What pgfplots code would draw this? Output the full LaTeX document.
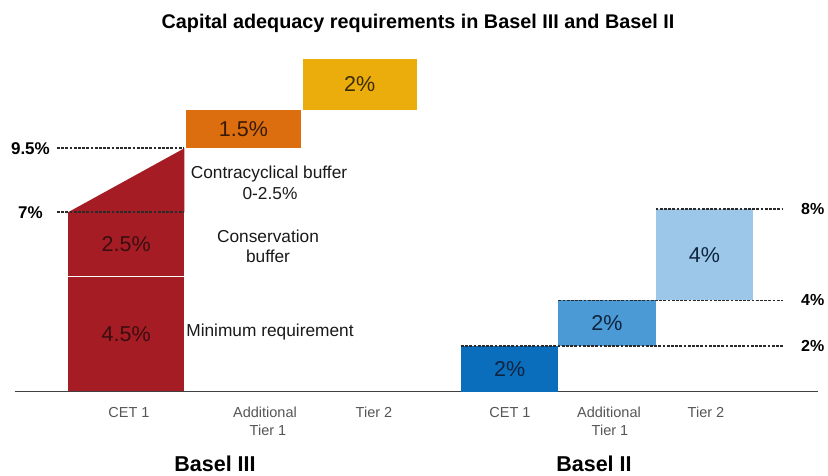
\documentclass[border=0pt]{standalone}
\usepackage{pgfplots}
\pgfplotsset{compat=1.18}
\usepackage{fontspec}
\setmainfont{Liberation Sans}
\definecolor{redbar}{HTML}{A51C24}
\definecolor{orangebar}{HTML}{DC6E10}
\definecolor{yellowbar}{HTML}{EBAD0C}
\definecolor{blueA}{HTML}{0B6EBD}
\definecolor{blueB}{HTML}{4B9AD5}
\definecolor{blueC}{HTML}{9CC7E8}
\definecolor{redtxt}{HTML}{3A0E10}
\definecolor{orangetxt}{HTML}{3A1A06}
\definecolor{yellowtxt}{HTML}{3A2C04}
\definecolor{bluetxt}{HTML}{0E2440}
\definecolor{cattxt}{HTML}{555555}
\definecolor{dashc}{HTML}{2A2A2A}
\begin{document}
\begin{tikzpicture}[x=1pt,y=1pt]
\useasboundingbox (0,0) rectangle (828,475);
\tikzset{barlab/.style={font=\fontsize{21.5}{24}\selectfont, inner sep=0pt},
         dline/.style={dashc, line width=1.6pt, dash pattern=on 2.8pt off 1.4pt},
         cat/.style={font=\fontsize{14.5}{17}\selectfont, text=cattxt, anchor=base, inner sep=0pt},
         ann/.style={font=\fontsize{17.3}{20}\selectfont, text=black!90, anchor=base, inner sep=0pt}}
% ---------------- Basel III ----------------
\begin{axis}[at={(0,0)}, anchor=south west, scale only axis, width=828pt, height=475pt,
  xmin=-0.5845, xmax=6.5330, ymin=-3.262, ymax=15.293, hide axis, clip=false, no markers]
  % CET 1: minimum requirement 4.5, conservation buffer 2.5, countercyclical 0-2.5
  \addplot[fill=redbar, draw=none] coordinates {(0,0) (1,0) (1,4.5) (0,4.5)} -- cycle;
  \addplot[fill=redbar, draw=none] coordinates {(0,4.5) (1,4.5) (1,7) (0,7)} -- cycle;
  \addplot[fill=redbar, draw=none] coordinates {(0,7) (1,9.5) (1,7)} -- cycle;
  \addplot[white, line width=1.5pt] coordinates {(0,4.5) (1,4.5)};
  % Additional Tier 1: 1.5
  \addplot[fill=orangebar, draw=none] coordinates {(1.017,9.5) (2,9.5) (2,11) (1.017,11)} -- cycle;
  % Tier 2: 2
  \addplot[fill=yellowbar, draw=none] coordinates {(2.017,11) (3,11) (3,13) (2.017,13)} -- cycle;
  % reference lines
  \addplot[dline] coordinates {(-0.0946,9.5) (1,9.5)};
  \addplot[dline] coordinates {(-0.0946,7) (1,7)};
  \addplot[color=black!75, line width=1.3pt] coordinates {(-0.4556,0) (6.447,0)};
  \node[barlab, text=redtxt] at (axis cs:0.5,2.25) {4.5\%};
  \node[barlab, text=redtxt] at (axis cs:0.5,5.75) {2.5\%};
  \node[barlab, text=orangetxt] at (axis cs:1.508,10.25) {1.5\%};
  \node[barlab, text=yellowtxt] at (axis cs:2.508,12) {2\%};
  \node[anchor=east, inner sep=0pt, font=\fontsize{17}{20}\selectfont\bfseries] at (axis cs:-0.1547,9.5) {9.5\%};
  \node[anchor=east, inner sep=0pt, font=\fontsize{17}{20}\selectfont\bfseries] at (axis cs:-0.2149,7) {7\%};
\end{axis}
% ---------------- Basel II ----------------
\begin{axis}[at={(0,0)}, anchor=south west, scale only axis, width=828pt, height=475pt,
  xmin=-4.7365, xmax=3.7707, ymin=-3.6623, ymax=17.171, hide axis, clip=false, no markers]
  \addplot[fill=blueA, draw=none] coordinates {(0,0) (1,0) (1,2) (0,2)} -- cycle;
  \addplot[fill=blueB, draw=none] coordinates {(1,2) (2,2) (2,4) (1,4)} -- cycle;
  \addplot[fill=blueC, draw=none] coordinates {(2,4) (3,4) (3,8) (2,8)} -- cycle;
  \addplot[dline] coordinates {(0,2) (3.308,2)};
  \addplot[dline] coordinates {(1,4) (3.308,4)};
  \addplot[dline] coordinates {(2,8) (3.308,8)};
  \node[barlab, text=bluetxt] at (axis cs:0.5,1) {2\%};
  \node[barlab, text=bluetxt] at (axis cs:1.5,3) {2\%};
  \node[barlab, text=bluetxt] at (axis cs:2.5,6) {4\%};
  \node[anchor=west, inner sep=0pt, font=\fontsize{16}{19}\selectfont\bfseries] at (axis cs:3.493,8) {8\%};
  \node[anchor=west, inner sep=0pt, font=\fontsize{16}{19}\selectfont\bfseries] at (axis cs:3.493,4) {4\%};
  \node[anchor=west, inner sep=0pt, font=\fontsize{16}{19}\selectfont\bfseries] at (axis cs:3.493,2) {2\%};
\end{axis}
% ---------------- texts ----------------
\node[font=\fontsize{19.8}{24}\selectfont\bfseries, inner sep=0pt] at (418,452) {Capital adequacy requirements in Basel III and Basel II};
\node[ann] at (269,297) {Contracyclical buffer};
\node[ann] at (270,276) {0-2.5\%};
\node[ann] at (268,233) {Conservation};
\node[ann] at (268,213) {buffer};
\node[ann] at (270,138.5) {Minimum requirement};
\node[cat] at (129,57.5) {CET 1};
\node[cat] at (265,57.5) {Additional};
\node[cat] at (268,39.5) {Tier 1};
\node[cat] at (374,57.5) {Tier 2};
\node[cat] at (510,57.5) {CET 1};
\node[cat] at (609,57.5) {Additional};
\node[cat] at (610,39.5) {Tier 1};
\node[cat] at (706,57.5) {Tier 2};
\node[font=\fontsize{21.5}{26}\selectfont\bfseries, anchor=base, inner sep=0pt] at (215,4) {Basel III};
\node[font=\fontsize{21.5}{26}\selectfont\bfseries, anchor=base, inner sep=0pt] at (594,4) {Basel II};
\end{tikzpicture}
\end{document}
